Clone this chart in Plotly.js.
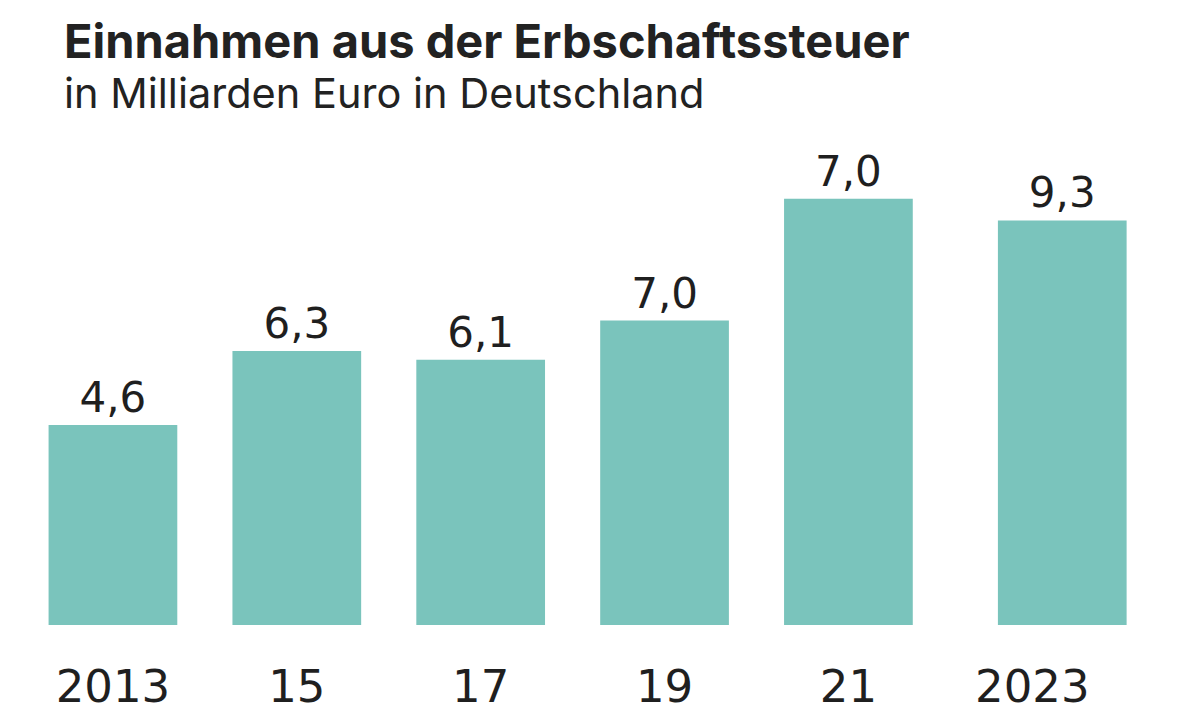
<!DOCTYPE html>
<html>
<head>
<meta charset="utf-8">
<script src="https://cdn.plot.ly/plotly-3.0.1.min.js"></script>
<style>html,body{margin:0;padding:0;background:#fff;}#chart{width:1200px;height:725px;}</style>
</head>
<body>
<div id="chart"></div>
<script>
// Data
const categories = ["2013", "15", "17", "19", "21", "2023"];
const barHeights = [4.6, 6.3, 6.1, 7.0, 9.8, 9.3];      // bar heights as drawn
const valueLabels = ["4,6", "6,3", "6,1", "7,0", "7,0", "9,3"]; // labels as printed
const titleText = "Einnahmen aus der Erbschaftssteuer";
const subtitleText = "in Milliarden Euro in Deutschland";

const barWidth = 0.70;
const shifts = [0, 0, 0, 0, 0, 0.163];

const trace = {
  type: "bar",
  x: categories,
  y: barHeights,
  text: valueLabels,
  texttemplate: "%{text}",
  textposition: "outside",
  constraintext: "none",
  cliponaxis: false,
  width: barWidth,
  offset: shifts.map(s => -barWidth / 2 + s),
  marker: {color: "#7ac4bc", line: {width: 0}},
  outsidetextfont: {family: "DejaVu Sans", size: 42, color: "#1f1f1f"},
  hoverinfo: "skip"
};

const layout = {
  width: 1200,
  height: 725,
  margin: {l: 20.5, r: 38.7, t: 150, b: 100},
  paper_bgcolor: "#ffffff",
  plot_bgcolor: "#ffffff",
  showlegend: false,
  title: {
    text: "<b>" + titleText + "</b>",
    font: {family: "Inter", size: 47, color: "#222222"},
    xref: "container", x: 64 / 1200, xanchor: "left",
    yref: "container", y: 1 - 42 / 725, yanchor: "middle"
  },
  annotations: [{
    text: subtitleText,
    xref: "paper", x: (62 - 20.5) / 1140.8, xanchor: "left",
    yref: "paper", y: (625 - 93) / 475, yanchor: "middle",
    showarrow: false,
    font: {family: "Inter", size: 41.5, color: "#222222"}
  }],
  xaxis: {
    type: "category",
    range: [-0.5, 5.7],
    showgrid: false, zeroline: false, showline: false,
    ticks: "outside", ticklen: 22, tickcolor: "rgba(0,0,0,0)",
    tickfont: {family: "DejaVu Sans", size: 45, color: "#1f1f1f"},
    fixedrange: true
  },
  yaxis: {
    range: [0, 475 / 43.5],
    visible: false,
    showgrid: false, zeroline: false,
    fixedrange: true
  }
};

Plotly.newPlot("chart", [trace], layout, {displayModeBar: false, staticPlot: true});
</script>
</body>
</html>
